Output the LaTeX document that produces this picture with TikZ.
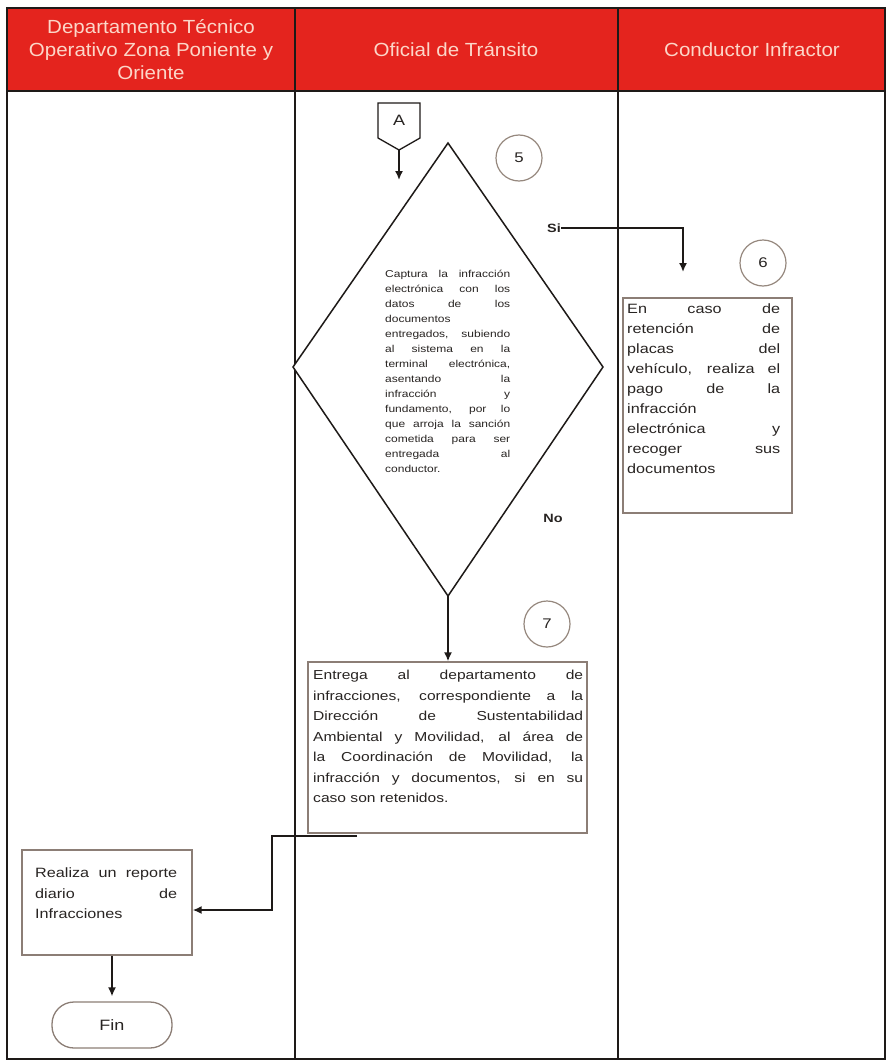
\documentclass[tikz,border=0pt]{standalone}
\usepackage{fontspec}
\setmainfont{Liberation Sans}[FakeStretch=1.2]
\newfontfamily\hdrfont{Liberation Sans}[FakeStretch=1.08]
\usetikzlibrary{arrows.meta}
\definecolor{hdrred}{RGB}{228,36,30}
\definecolor{hdrtxt}{RGB}{252,214,200}
\definecolor{boxc}{RGB}{140,126,118}
\definecolor{circc}{RGB}{150,136,126}
\definecolor{linec}{RGB}{30,26,24}
\definecolor{txtc}{RGB}{40,36,34}
\hyphenpenalty=10000
\exhyphenpenalty=10000
\hbadness=10000
\begin{document}
\begin{tikzpicture}[x=1pt,y=-1pt,
  tbl/.style={draw=linec,line width=1.8pt},
  hdr/.style={text=hdrtxt,align=center,font=\hdrfont\fontsize{19}{23}\selectfont,inner sep=0pt},
  procbox/.style={draw=boxc,line width=1.4pt,inner sep=0pt,fill=white},
  bodytxt/.style={text=txtc,align=justify,inner sep=0pt,anchor=north west},
  numc/.style={circle,draw=circc,line width=1.2pt,minimum size=46pt,inner sep=0pt,text=txtc,font=\fontsize{14}{16}\selectfont},
  conn/.style={draw=linec,line width=1.6pt,-{Latex[length=9pt,width=8pt]}},
  lbl/.style={text=txtc,font=\bfseries\fontsize{12}{14}\selectfont,inner sep=0pt}
]
\useasboundingbox (0,0) rectangle (887,1062);
\fill[white] (0,0) rectangle (887,1062);
% header
\fill[hdrred] (7,8) rectangle (885,91);
\draw[tbl] (7,8) rectangle (885,1059);
\draw[tbl] (7,91) -- (885,91);
\draw[tbl] (295,8) -- (295,1059);
\draw[tbl] (618,8) -- (618,1059);
\node[hdr] (h1) at (151,50) {Departamento Técnico\\Operativo Zona Poniente y\\Oriente};
\node[hdr] (h2) at (456,50) {Oficial de Tránsito};
\node[hdr] (h3) at (752,50) {Conductor Infractor};

% off-page connector A
\node[text=txtc,font=\fontsize{15}{17}\selectfont,inner sep=0pt] (A) at (399,120) {A};
\draw[draw=linec,line width=1.3pt] (378,103) -- (420,103) -- (420,138) -- (399,150) -- (378,138) -- cycle;
\coordinate (Abot) at (399,150);
\coordinate (Aend) at (399,180);
\draw[conn] (Abot) -- (Aend);

% decision diamond
\coordinate (dtop) at (448,143);
\coordinate (dright) at (603,367);
\coordinate (dbot) at (448,596);
\coordinate (dleft) at (293,367);
\draw[draw=linec,line width=1.5pt,fill=white] (dtop) -- (dright) -- (dbot) -- (dleft) -- cycle;
\node[bodytxt,text width=125pt,font=\fontsize{10}{15}\selectfont] (dtxt) at (385,270) {Captura la infracción\linebreak
electrónica con los\linebreak
datos de los\linebreak
documentos\linebreak
entregados, subiendo\linebreak
al sistema en la\linebreak
terminal electrónica,\linebreak
asentando la\linebreak
infracción y\linebreak
fundamento, por lo\linebreak
que arroja la sanción\linebreak
cometida para ser\linebreak
entregada al\linebreak
conductor.};
\node[numc] (c5) at (519,158) {5};

% Si branch
\node[lbl] (si) at (554,228) {Si};
\coordinate (s6) at (683,272);
\draw[conn] (si.east) -| (s6);
\node[numc] (c6) at (763,263) {6};
\node[procbox,minimum width=169pt,minimum height=215pt] (b6) at (707.5,405.5) {};
\node[bodytxt,text width=153pt,font=\fontsize{13.5}{20}\selectfont] (t6) at (627,304) {En caso de\linebreak
retención de\linebreak
placas del\linebreak
vehículo, realiza el\linebreak
pago de la\linebreak
infracción\linebreak
electrónica y\linebreak
recoger sus\linebreak
documentos};

% No branch
\node[lbl] (no) at (553,518) {No};
\node[numc] (c7) at (547,624) {7};
\node[procbox,minimum width=279pt,minimum height=171pt] (b7) at (447.5,747.5) {};
\draw[conn] (dbot) -- (dbot |- b7.north);
\node[bodytxt,text width=270pt,font=\fontsize{13}{20.5}\selectfont] (t7) at (313,670) {Entrega al departamento de\linebreak
infracciones, correspondiente a la\linebreak
Dirección de Sustentabilidad\linebreak
Ambiental y Movilidad, al área de\linebreak
la Coordinación de Movilidad, la\linebreak
infracción y documentos, si en su\linebreak
caso son retenidos.};

% report box
\node[procbox,minimum width=170pt,minimum height=105pt] (rb) at (107,902.5) {};
\node[bodytxt,text width=142pt,font=\fontsize{13.5}{20.5}\selectfont] (trb) at (35,868) {Realiza un reporte\linebreak
diario de\linebreak
Infracciones};
\coordinate (k1) at (357,836);
\coordinate (k2) at (272,910);
\draw[conn] (k1) -| (k2) -- (k2 -| rb.east);

% end
\node[draw=boxc,line width=1.3pt,rounded corners=22pt,minimum width=120pt,minimum height=46pt,inner sep=0pt,text=txtc,font=\fontsize{15}{17}\selectfont] (fin) at (112,1025) {Fin};
\draw[conn,shorten >=5pt] (fin.north |- rb.south) -- (fin.north);
\end{tikzpicture}
\end{document}
